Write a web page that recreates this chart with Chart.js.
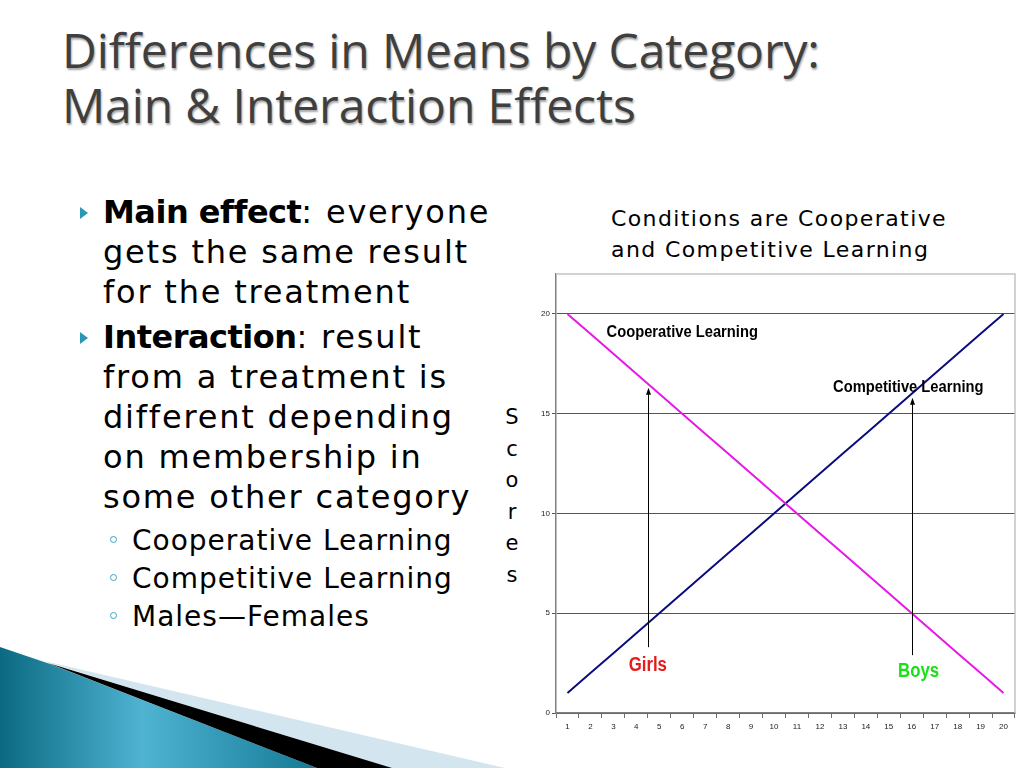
<!DOCTYPE html>
<html>
<head>
<meta charset="utf-8">
<script src="https://cdn.jsdelivr.net/npm/chart.js@4.4.1/dist/chart.umd.min.js"></script>
<style>
  html, body { margin:0; padding:0; background:#fff; }
  body { width:1024px; height:768px; position:relative; overflow:hidden; font-family:"DejaVu Sans", Verdana, sans-serif; color:#000; }
  .title { position:absolute; left:62px; top:22px; font-family:"Open Sans", sans-serif; font-size:48px; line-height:55px; color:#3f3f3f; text-shadow:1px 2px 2px rgba(0,0,0,0.35); letter-spacing:-0.1px; }
  .body { position:absolute; left:103px; top:192px; font-size:32px; line-height:40px; letter-spacing:1.8px; }
  .body b { letter-spacing:-0.5px; }
  .body p { margin:0; position:relative; }
  .body p.gap { margin-top:5px; }
  .body .arrow { position:absolute; left:-23px; top:15px; width:0; height:0; border-top:6px solid transparent; border-bottom:6px solid transparent; border-left:8px solid #2a97b4; }
  .subs { position:absolute; left:132px; top:522px; font-size:28px; line-height:38px; letter-spacing:1px; }
  .subs p { margin:0; position:relative; }
  .subs .dot { position:absolute; left:-22px; top:14px; width:7px; height:7px; border:1.5px solid #3aa3bf; border-radius:50%; box-sizing:border-box; }
  .cond { position:absolute; left:611px; top:203px; font-size:22px; line-height:31px; letter-spacing:1.4px; }
  .scores { position:absolute; left:502px; top:402px; width:20px; text-align:center; font-size:21px; line-height:31.5px; }
  #wrap { position:absolute; left:520px; top:264px; width:504px; height:476px; }
  svg.deco { position:absolute; left:0; top:0; }
</style>
</head>
<body>
<svg class="deco" width="1024" height="768">
  <defs>
    <linearGradient id="teal" x1="0" y1="0" x2="1" y2="0">
      <stop offset="0" stop-color="#0b6a82"/>
      <stop offset="0.45" stop-color="#4fb3d2"/>
      <stop offset="1" stop-color="#137a95"/>
    </linearGradient>
  </defs>
  <polygon points="40,660 505,768 390,768" fill="#d3e6ef"/>
  <polygon points="0,647 50,664 317,768 0,768" fill="url(#teal)"/>
  <polygon points="48,663 392,768 317,768" fill="#000"/>
</svg>

<div class="title">Differences in Means by Category:<br>Main &amp; Interaction Effects</div>

<div class="body">
  <p><span class="arrow"></span><b>Main effect</b>: everyone<br>gets the same result<br>for the treatment</p>
  <p class="gap"><span class="arrow"></span><b>Interaction</b>: result<br>from a treatment is<br>different depending<br>on membership in<br>some other category</p>
</div>
<div class="subs">
  <p><span class="dot"></span>Cooperative Learning</p>
  <p><span class="dot"></span>Competitive Learning</p>
  <p><span class="dot"></span>Males—Females</p>
</div>

<div class="cond">Conditions are Cooperative<br>and Competitive Learning</div>
<div class="scores">S<br>c<br>o<br>r<br>e<br>s</div>

<div id="wrap"><canvas id="chart"></canvas></div>

<script>
const categories = ['1','2','3','4','5','6','7','8','9','10','11','12','13','14','15','16','17','18','19','20'];
const cooperative = [20,19,18,17,16,15,14,13,12,11,10,9,8,7,6,5,4,3,2,1];
const competitive = [1,2,3,4,5,6,7,8,9,10,11,12,13,14,15,16,17,18,19,20];
const yTicks = [0,5,10,15,20];

// text labels and arrows, in data units (x = category index from 0)
const notes = [
  {text:'Cooperative Learning', x:5.0, y:19.05, color:'#000', size:16},
  {text:'Competitive Learning', x:14.85, y:16.3, color:'#000', size:16},
  {text:'Girls', x:3.5, y:2.4, color:'#e51a1a', size:20},
  {text:'Boys', x:15.3, y:2.1, color:'#19e019', size:20}
];
const arrows = [
  {x:3.5, from:3.3, to:16.3},
  {x:15.0, from:2.9, to:15.8}
];

const annotate = {
  id:'annotate',
  afterDatasetsDraw(chart){
    const {ctx, chartArea, scales:{x, y}} = chart;
    ctx.save();
    // light frame top / right
    ctx.strokeStyle = '#c4c4c4';
    ctx.lineWidth = 1.5;
    ctx.beginPath();
    ctx.moveTo(chartArea.left, chartArea.top);
    ctx.lineTo(chartArea.right, chartArea.top);
    ctx.lineTo(chartArea.right, chartArea.bottom);
    ctx.stroke();

    arrows.forEach(a => {
      const px = Math.round(x.getPixelForValue(a.x)) + 0.5;
      const y0 = y.getPixelForValue(a.from), y1 = y.getPixelForValue(a.to);
      ctx.strokeStyle = '#000';
      ctx.lineWidth = 1;
      ctx.beginPath();
      ctx.moveTo(px, y0);
      ctx.lineTo(px, y1 + 5);
      ctx.stroke();
      ctx.fillStyle = '#000';
      ctx.beginPath();
      ctx.moveTo(px, y1);
      ctx.lineTo(px - 2.5, y1 + 7);
      ctx.lineTo(px + 2.5, y1 + 7);
      ctx.closePath();
      ctx.fill();
    });

    notes.forEach(n => {
      ctx.save();
      ctx.translate(x.getPixelForValue(n.x), y.getPixelForValue(n.y));
      ctx.scale(n.size === 16 ? 0.92 : 0.84, 1);
      ctx.font = 'bold ' + n.size + 'px "Liberation Sans", Arial, sans-serif';
      ctx.fillStyle = n.color;
      ctx.textAlign = 'center';
      ctx.textBaseline = 'middle';
      ctx.fillText(n.text, 0, 0);
      ctx.restore();
    });
    ctx.restore();
  }
};

new Chart(document.getElementById('chart'), {
  type:'line',
  data:{
    labels:categories,
    datasets:[
      {label:'Cooperative Learning', data:cooperative, borderColor:'#e619e6', borderWidth:2, pointRadius:0, tension:0},
      {label:'Competitive Learning', data:competitive, borderColor:'#0c0c80', borderWidth:2, pointRadius:0, tension:0}
    ]
  },
  options:{
    responsive:true,
    maintainAspectRatio:false,
    animation:false,
    layout:{padding:{top:10, right:9, bottom:0, left:0}},
    plugins:{legend:{display:false}, tooltip:{enabled:false}},
    scales:{
      x:{
        offset:true,
        grid:{offset:true, drawOnChartArea:false, drawTicks:true, tickLength:5, color:'#707070'},
        border:{color:'#808080', width:1.5},
        ticks:{color:'#222', font:{size:8, family:'"Liberation Sans", Arial'}, padding:4, maxRotation:0, autoSkip:false},
        afterFit(s){ s.height = 27; }
      },
      y:{
        min:0, max:22,
        grid:{color:'#555', lineWidth:1, tickLength:4},
        border:{color:'#808080', width:1.5},
        ticks:{stepSize:5, includeBounds:false, color:'#222', font:{size:8, family:'"Liberation Sans", Arial'}, padding:2},
        afterBuildTicks(s){ s.ticks = yTicks.map(v => ({value:v})); },
        afterFit(s){ s.width = 36; }
      }
    }
  },
  plugins:[annotate]
});
</script>
</body>
</html>
